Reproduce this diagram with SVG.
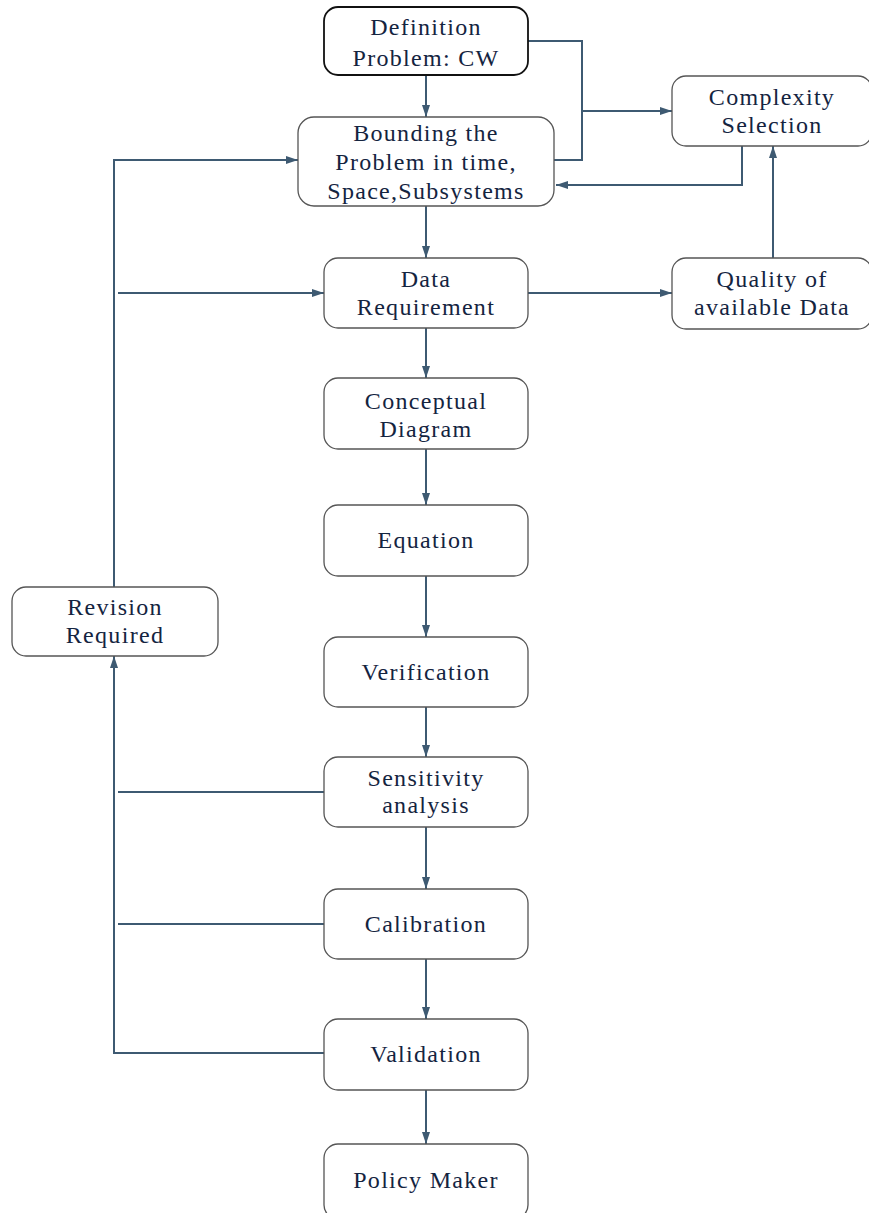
<svg xmlns="http://www.w3.org/2000/svg" width="869" height="1213" viewBox="0 0 869 1213">
<defs>
<marker id="ah" viewBox="0 0 12 8" refX="12" refY="4" markerWidth="12" markerHeight="8" markerUnits="userSpaceOnUse" orient="auto">
<path d="M0,0 L12,4 L0,8 Z" fill="#3e5a72"/>
</marker>
</defs>
<style>
.n{fill:#fff;stroke:#555;stroke-width:1.3}
.d{fill:#fff;stroke:#111;stroke-width:1.8}
.t{font-family:"Liberation Serif","Times New Roman",serif;font-size:24px;fill:#14243f;text-anchor:middle;letter-spacing:1.3px}
.c{fill:none;stroke:#3e5a72;stroke-width:2}
.a{marker-end:url(#ah)}
</style>
<rect width="869" height="1213" fill="#fff"/>
<g id="connectors">
<path class="c a" d="M426,75 V117"/>
<path class="c" d="M528,41 H582 V160 H554"/>
<path class="c a" d="M582,111 H672"/>
<path class="c a" d="M742,146 V185 H556"/>
<path class="c a" d="M426,206 V258"/>
<path class="c a" d="M528,293 H672"/>
<path class="c a" d="M773,258 V146"/>
<path class="c a" d="M114,587 V160 H298"/>
<path class="c a" d="M118,293 H324"/>
<path class="c a" d="M426,328 V378"/>
<path class="c a" d="M426,449 V505"/>
<path class="c a" d="M426,576 V637"/>
<path class="c a" d="M426,707 V757"/>
<path class="c a" d="M426,827 V889"/>
<path class="c a" d="M426,959 V1019"/>
<path class="c a" d="M426,1090 V1144"/>
<path class="c" d="M324,792 H118"/>
<path class="c" d="M324,924 H118"/>
<path class="c a" d="M324,1053 H114 V656"/>
</g>
<g id="definition"><rect class="d" x="324" y="7" width="204" height="68" rx="14"/><text class="t" x="426" y="35">Definition</text><text class="t" x="426" y="66">Problem: CW</text></g>
<g id="bounding"><rect class="n" x="298" y="117" width="256" height="89" rx="16"/><text class="t" x="426" y="141">Bounding the</text><text class="t" x="426" y="170">Problem in time,</text><text class="t" x="426" y="199">Space,Subsystems</text></g>
<g id="complexity"><rect class="n" x="672" y="76" width="200" height="70" rx="14"/><text class="t" x="772" y="105">Complexity</text><text class="t" x="772" y="133">Selection</text></g>
<g id="data"><rect class="n" x="324" y="258" width="204" height="70" rx="14"/><text class="t" x="426" y="287">Data</text><text class="t" x="426" y="315">Requirement</text></g>
<g id="quality"><rect class="n" x="672" y="258" width="200" height="71" rx="14"/><text class="t" x="772" y="287">Quality of</text><text class="t" x="772" y="315">available Data</text></g>
<g id="conceptual"><rect class="n" x="324" y="378" width="204" height="71" rx="14"/><text class="t" x="426" y="409">Conceptual</text><text class="t" x="426" y="437">Diagram</text></g>
<g id="equation"><rect class="n" x="324" y="505" width="204" height="71" rx="14"/><text class="t" x="426" y="548">Equation</text></g>
<g id="verification"><rect class="n" x="324" y="637" width="204" height="70" rx="14"/><text class="t" x="426" y="680">Verification</text></g>
<g id="sensitivity"><rect class="n" x="324" y="757" width="204" height="70" rx="14"/><text class="t" x="426" y="786">Sensitivity</text><text class="t" x="426" y="813">analysis</text></g>
<g id="calibration"><rect class="n" x="324" y="889" width="204" height="70" rx="14"/><text class="t" x="426" y="932">Calibration</text></g>
<g id="validation"><rect class="n" x="324" y="1019" width="204" height="71" rx="14"/><text class="t" x="426" y="1062">Validation</text></g>
<g id="policy"><rect class="n" x="324" y="1144" width="204" height="75" rx="14"/><text class="t" x="426" y="1188">Policy Maker</text></g>
<g id="revision"><rect class="n" x="12" y="587" width="206" height="69" rx="14"/><text class="t" x="115" y="615">Revision</text><text class="t" x="115" y="643">Required</text></g>
</svg>
